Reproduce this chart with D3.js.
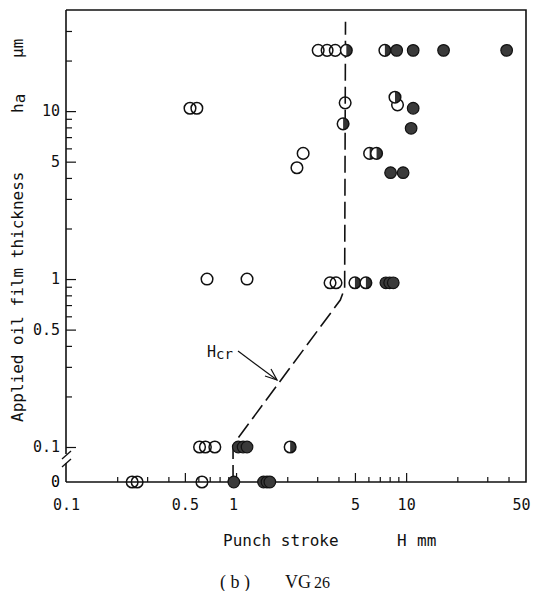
<!DOCTYPE html>
<html>
<head>
<meta charset="utf-8">
<script src="https://cdn.jsdelivr.net/npm/d3@7"></script>
<style>
  body { margin: 0; background: #fff; }
  svg { display: block; }
  .tick text { font-family: "DejaVu Sans Mono", monospace; font-size: 15px; fill: #111; }
</style>
</head>
<body>
<div id="viz"></div>
<script>
var width = 533,
    height = 591;

// data: [punch stroke H (mm), applied oil film thickness ha (um)], 0 = no oil
var openPts = [[0.245, 0], [0.262, 0], [0.63, 0],
    [0.61, 0.1], [0.66, 0.1], [0.75, 0.1],
    [0.675, 1.0], [1.16, 1.0], [3.57, 0.95], [3.87, 0.95],
    [2.28, 4.6], [2.48, 5.6],
    [0.536, 10.4], [0.588, 10.4], [4.38, 11.2], [8.9, 10.9],
    [3.04, 23], [3.43, 23], [3.83, 23]];
var halfPts = [[2.08, 0.1],
    [5.0, 0.95], [5.8, 0.95],
    [6.1, 5.6], [6.7, 5.6],
    [4.26, 8.4], [8.6, 12.1],
    [4.45, 23], [7.5, 23]];
var filledPts = [[0.97, 0], [1.45, 0], [1.52, 0], [1.58, 0],
    [1.03, 0.1], [1.1, 0.1], [1.16, 0.1],
    [7.6, 0.95], [8.0, 0.95], [8.4, 0.95],
    [8.1, 4.3], [9.6, 4.3],
    [10.7, 7.9], [11.0, 10.4],
    [8.8, 23], [11.0, 23], [16.6, 23], [39, 23]];

// critical line Hcr
var hcrLine = [[0.96, 0], [0.96, 0.1], [1.02, 0.112], [4.1, 0.75], [4.35, 0.88], [4.4, 34]];

var xMajor = [0.1, 0.5, 1, 5, 10, 50];
var xMinor = [0.2, 0.3, 0.4, 0.6, 0.7, 0.8, 0.9, 2, 3, 4, 6, 7, 8, 9, 20, 30, 40];
var yMajor = [0.1, 0.5, 1, 5, 10];
var yMinor = [0.2, 0.3, 0.4, 0.6, 0.7, 0.8, 0.9, 2, 3, 4, 6, 7, 8, 9, 20, 30];

var svg = d3.select("#viz").append("svg")
    .attr("width", width)
    .attr("height", height);

var x = d3.scaleLog().domain([0.1, 50]).range([66, 525]);
var y = d3.scaleLog().domain([0.1, 40]).range([447, 10]);
var yZero = 482;

function yPos(v) { return v === 0 ? yZero : y(v); }

var monoFont = '"DejaVu Sans Mono", monospace';

// frame
svg.append("path")
    .attr("d", "M" + x(0.1) + "," + y(40) + "H" + (x(50) + 1) + "V" + yZero + "H" + x(0.1))
    .attr("fill", "none").attr("stroke", "#111").attr("stroke-width", 1.6);

// left axis with break
svg.append("line")
    .attr("x1", x(0.1)).attr("x2", x(0.1))
    .attr("y1", y(40)).attr("y2", 454)
    .attr("stroke", "#111").attr("stroke-width", 1.6);
svg.append("line")
    .attr("x1", x(0.1)).attr("x2", x(0.1))
    .attr("y1", 463).attr("y2", yZero)
    .attr("stroke", "#111").attr("stroke-width", 1.6);
svg.append("line").attr("x1", x(0.1) - 4).attr("y1", 459).attr("x2", x(0.1) + 5).attr("y2", 451)
    .attr("stroke", "#111").attr("stroke-width", 1.4);
svg.append("line").attr("x1", x(0.1) - 4).attr("y1", 467).attr("x2", x(0.1) + 5).attr("y2", 459)
    .attr("stroke", "#111").attr("stroke-width", 1.4);

// x axis ticks (inward)
var gx = svg.append("g").attr("transform", "translate(0," + yZero + ")");
gx.call(d3.axisBottom(x).tickValues(xMinor).tickSize(-5).tickFormat(""));
gx.append("g").call(d3.axisBottom(x).tickValues(xMajor).tickSize(-9).tickPadding(17)
    .tickFormat(function(d) { return String(d); }));
gx.selectAll(".domain").remove();
gx.selectAll("line").attr("stroke", "#111").attr("stroke-width", 1.2);
gx.selectAll(".tick").filter(function(d) { return d === 0.1 || d === 50; }).select("line").remove();
gx.selectAll(".tick text").filter(function(d) { return d === 50; }).attr("dx", -4);
gx.selectAll(".tick text").filter(function(d) { return d === 1; }).attr("dx", -3);

// y axis ticks (inward)
var gy = svg.append("g").attr("transform", "translate(" + x(0.1) + ",0)");
gy.call(d3.axisLeft(y).tickValues(yMinor).tickSize(-6).tickFormat(""));
gy.append("g").call(d3.axisLeft(y).tickValues(yMajor).tickSize(-10).tickPadding(6)
    .tickFormat(function(d) { return String(d); }));
gy.selectAll(".domain").remove();
gy.selectAll("line").attr("stroke", "#111").attr("stroke-width", 1.2);

svg.append("text")
    .attr("x", x(0.1) - 6).attr("y", yPos(0)).attr("dy", "0.3em")
    .attr("text-anchor", "end")
    .style("font-family", monoFont).style("font-size", "15px")
    .text("0");

// Hcr dashed line
var line = d3.line()
    .x(function(d) { return x(d[0]); })
    .y(function(d) { return yPos(d[1]); })
    .curve(d3.curveLinear);

svg.append("path")
    .datum(hcrLine)
    .attr("d", line)
    .attr("fill", "none")
    .attr("stroke", "#111")
    .attr("stroke-width", 1.6)
    .attr("stroke-dasharray", "17,6");

// Hcr label and arrow
var hcr = svg.append("text")
    .attr("x", 207).attr("y", 357)
    .style("font-family", monoFont).style("font-size", "15px").attr("fill", "#111");
hcr.append("tspan").text("H");
hcr.append("tspan").attr("dy", 2).style("font-size", "14px").text("cr");

svg.append("line").attr("x1", 238).attr("y1", 351).attr("x2", 277).attr("y2", 380)
    .attr("stroke", "#111").attr("stroke-width", 1.2);
svg.append("path").attr("d", "M265,376L277,380L271,369")
    .attr("fill", "none").attr("stroke", "#111").attr("stroke-width", 1.2);

// points
var r = 5.8;
var pts = svg.append("g");

pts.selectAll(".open").data(openPts).enter().append("circle")
    .attr("class", "open")
    .attr("cx", function(d) { return x(d[0]); })
    .attr("cy", function(d) { return yPos(d[1]); })
    .attr("r", r)
    .attr("fill", "none")
    .attr("stroke", "#111").attr("stroke-width", 1.5);

var half = pts.selectAll(".half").data(halfPts).enter().append("g")
    .attr("class", "half")
    .attr("transform", function(d) { return "translate(" + x(d[0]) + "," + yPos(d[1]) + ")"; });
half.append("circle").attr("r", r).attr("fill", "#fff");
half.append("path")
    .attr("d", "M0," + (-r) + "A" + r + "," + r + " 0 0,1 0," + r + "Z")
    .attr("fill", "#333");
half.append("circle").attr("r", r).attr("fill", "none")
    .attr("stroke", "#111").attr("stroke-width", 1.5);

pts.selectAll(".filled").data(filledPts).enter().append("circle")
    .attr("class", "filled")
    .attr("cx", function(d) { return x(d[0]); })
    .attr("cy", function(d) { return yPos(d[1]); })
    .attr("r", r)
    .attr("fill", "#3a3a3a")
    .attr("stroke", "#111").attr("stroke-width", 1.2);

// axis titles
var xt = svg.append("text")
    .attr("x", 223).attr("y", 546)
    .style("font-family", monoFont).style("font-size", "16px").attr("fill", "#111");
xt.append("tspan").text("Punch stroke");
xt.append("tspan").attr("x", 397).text("H");
xt.append("tspan").attr("x", 417).text("mm");

var yt = svg.append("g").attr("transform", "translate(23,0) rotate(-90)");
yt.append("text")
    .attr("x", -422).attr("y", 0)
    .style("font-family", monoFont).style("font-size", "16px").attr("fill", "#111")
    .text("Applied oil film thickness");
var ha = yt.append("text")
    .attr("x", -113).attr("y", 0)
    .style("font-family", monoFont).style("font-size", "16px").attr("fill", "#111");
ha.append("tspan").text("h");
ha.append("tspan").attr("dy", 2).text("a");
yt.append("text")
    .attr("x", -58).attr("y", 0)
    .style("font-family", monoFont).style("font-size", "16px").attr("fill", "#111")
    .text("\u00b5m");

// caption
var cap = svg.append("text")
    .attr("x", 220).attr("y", 588)
    .style("font-family", '"Liberation Serif", serif').style("font-size", "18px").attr("fill", "#111");
cap.append("tspan").text("( b )");
cap.append("tspan").attr("x", 285).text("VG");
cap.append("tspan").attr("dx", 3).style("font-size", "16px").text("26");
</script>
</body>
</html>
